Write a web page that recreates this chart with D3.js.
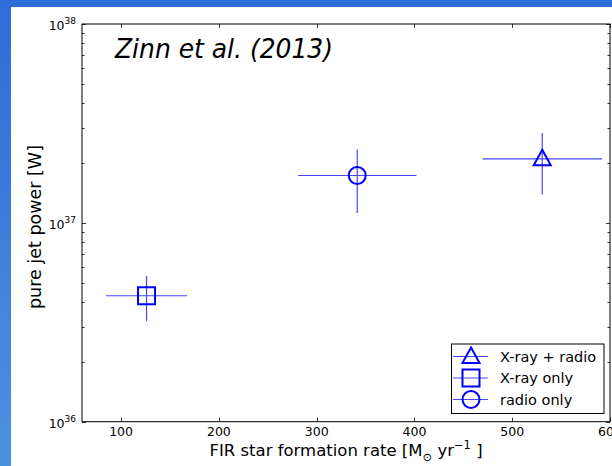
<!DOCTYPE html>
<html>
<head>
<meta charset="utf-8">
<script src="https://cdn.jsdelivr.net/npm/d3@7"></script>
<style>
  body { margin: 0; padding: 0; }
  svg { display: block; }
  text { font-family: "DejaVu Sans", sans-serif; }
</style>
</head>
<body>
<div id="chart"></div>
<script>

// data
var groups = ["X-ray + radio", "X-ray only", "radio only"];
var markers = ["triangle", "square", "circle"];
var sfr = [530.7, 126, 341.5];
var sfrErr = [61, 41.5, 60.5];
var jetPower = [2.1e37, 4.3e36, 1.73e37];
var jetPowerLow = [1.39e37, 3.2e36, 1.12e37];
var jetPowerHigh = [2.83e37, 5.4e36, 2.34e37];
var xTicks = [100, 200, 300, 400, 500, 600];
var yDecades = [36, 37, 38];

var W = 612, H = 466;
var plotLeft = 82, plotRight = 610, plotTop = 24, plotBottom = 421.7;

var svg = d3.select("#chart").append("svg")
    .attr("width", W)
    .attr("height", H);

// blue slide background
var grad = svg.append("defs").append("linearGradient")
    .attr("id", "bg").attr("x1", 0).attr("y1", 0).attr("x2", 0).attr("y2", 1);
grad.append("stop").attr("offset", "0%").attr("stop-color", "#2e6cd9");
grad.append("stop").attr("offset", "100%").attr("stop-color", "#4a92e2");
svg.append("rect").attr("width", W).attr("height", H).attr("fill", "url(#bg)");
svg.append("rect").attr("x", 11).attr("y", 7).attr("width", W - 11).attr("height", H - 7).attr("fill", "#fff");

var x = d3.scaleLinear().domain([60, 600]).range([plotLeft, plotRight]);
var y = d3.scaleLog().domain([1e36, 1e38]).range([plotBottom, plotTop]);

var g = svg.append("g");

// ticks
var minor = y.ticks();
minor.forEach(function(v){
    var major = Math.abs(Math.log10(v) - Math.round(Math.log10(v))) < 1e-9;
    var len = major ? 4 : 2.5;
    var yy = Math.round(y(v)) + 0.5;
    g.append("line").attr("x1", plotLeft).attr("x2", plotLeft + len).attr("y1", yy).attr("y2", yy)
        .attr("stroke", "#000").attr("stroke-width", 0.8);
    g.append("line").attr("x1", plotRight).attr("x2", plotRight - len).attr("y1", yy).attr("y2", yy)
        .attr("stroke", "#000").attr("stroke-width", 0.8);
});
xTicks.forEach(function(v){
    var xx = Math.round(x(v)) + 0.5;
    g.append("line").attr("x1", xx).attr("x2", xx).attr("y1", plotBottom).attr("y2", plotBottom - 4)
        .attr("stroke", "#000").attr("stroke-width", 0.8);
    g.append("line").attr("x1", xx).attr("x2", xx).attr("y1", plotTop).attr("y2", plotTop + 4)
        .attr("stroke", "#000").attr("stroke-width", 0.8);
    g.append("text").attr("x", x(v)).attr("y", plotBottom + 14)
        .attr("text-anchor", "middle").attr("font-size", 12.5).attr("fill", "#000")
        .text(v);
});

yDecades.forEach(function(p){
    var t = g.append("text").attr("x", plotLeft - 6).attr("y", y(Math.pow(10, p)) + 6)
        .attr("text-anchor", "end").attr("font-size", 12.5).attr("fill", "#000");
    t.append("tspan").text("10");
    t.append("tspan").attr("dy", -6).attr("font-size", 9).text(p);
});

// frame
g.append("rect").attr("x", plotLeft).attr("y", plotTop)
    .attr("width", plotRight - plotLeft).attr("height", plotBottom - plotTop)
    .attr("fill", "none").attr("stroke", "#000").attr("stroke-width", 1);

// axis labels
var xl = g.append("text").attr("x", (plotLeft + plotRight) / 2).attr("y", 456)
    .attr("text-anchor", "middle").attr("font-size", 16.5).attr("fill", "#000");
xl.append("tspan").text("FIR star formation rate [M");
xl.append("tspan").attr("dy", 5).attr("font-size", 11.5).text("\u2299");
xl.append("tspan").attr("dy", -5).text(" yr");
xl.append("tspan").attr("dy", -7).attr("font-size", 11.5).text("\u22121");
xl.append("tspan").attr("dy", 7).text(" ]");

g.append("text")
    .attr("transform", "translate(41," + 227 + ") rotate(-90)")
    .attr("text-anchor", "middle").attr("font-size", 17.5).attr("fill", "#000")
    .text("pure jet power [W]");

// title
g.append("text").attr("x", 115).attr("y", 57.5)
    .attr("font-family", "Lato, sans-serif").attr("font-style", "italic")
    .attr("font-size", 27).attr("fill", "#000")
    .attr("textLength", 218).attr("lengthAdjust", "spacingAndGlyphs")
    .text("Zinn et al. (2013)");

var markerPath = function(type, size){
    if (type === "square") return d3.symbol().type(d3.symbolSquare).size(size * size)();
    if (type === "circle") return d3.symbol().type(d3.symbolCircle).size(Math.PI * size * size / 4)();
    var r = size / 2;
    return "M0," + (-r * 1.05) + "L" + (r) + "," + (r * 0.75) + "L" + (-r) + "," + (r * 0.75) + "Z";
};

// error bars + markers
var errColor = "#4646ff";
var blue = "#0000ff";
sfr.forEach(function(v, i){
    var cx = x(v), cy = y(jetPower[i]);
    g.append("line").attr("x1", x(v - sfrErr[i])).attr("x2", x(v + sfrErr[i]))
        .attr("y1", cy).attr("y2", cy)
        .attr("stroke", errColor).attr("stroke-width", 1.2);
    g.append("line").attr("x1", cx).attr("x2", cx)
        .attr("y1", y(jetPowerLow[i])).attr("y2", y(jetPowerHigh[i]))
        .attr("stroke", errColor).attr("stroke-width", 1.2);
    g.append("path").attr("d", markerPath(markers[i], 17))
        .attr("transform", "translate(" + cx + "," + cy + ")")
        .attr("fill", "none").attr("stroke", blue).attr("stroke-width", 2);
});

// legend
var lg = g.append("g");
lg.append("rect").attr("x", 451.5).attr("y", 344).attr("width", 152.5).attr("height", 69.5)
    .attr("fill", "#fff").attr("stroke", "#000").attr("stroke-width", 1);
groups.forEach(function(name, i){
    var ly = 356.5 + i * 21.5;
    lg.append("line").attr("x1", 453).attr("x2", 488).attr("y1", ly).attr("y2", ly)
        .attr("stroke", errColor).attr("stroke-width", 1.2);
    lg.append("path").attr("d", markerPath(markers[i], 17))
        .attr("transform", "translate(471," + ly + ")")
        .attr("fill", "none").attr("stroke", blue).attr("stroke-width", 2);
    lg.append("text").attr("x", 500).attr("y", ly + 5)
        .attr("font-size", 14.5).attr("fill", "#000").text(name);
});

</script>
</body>
</html>
